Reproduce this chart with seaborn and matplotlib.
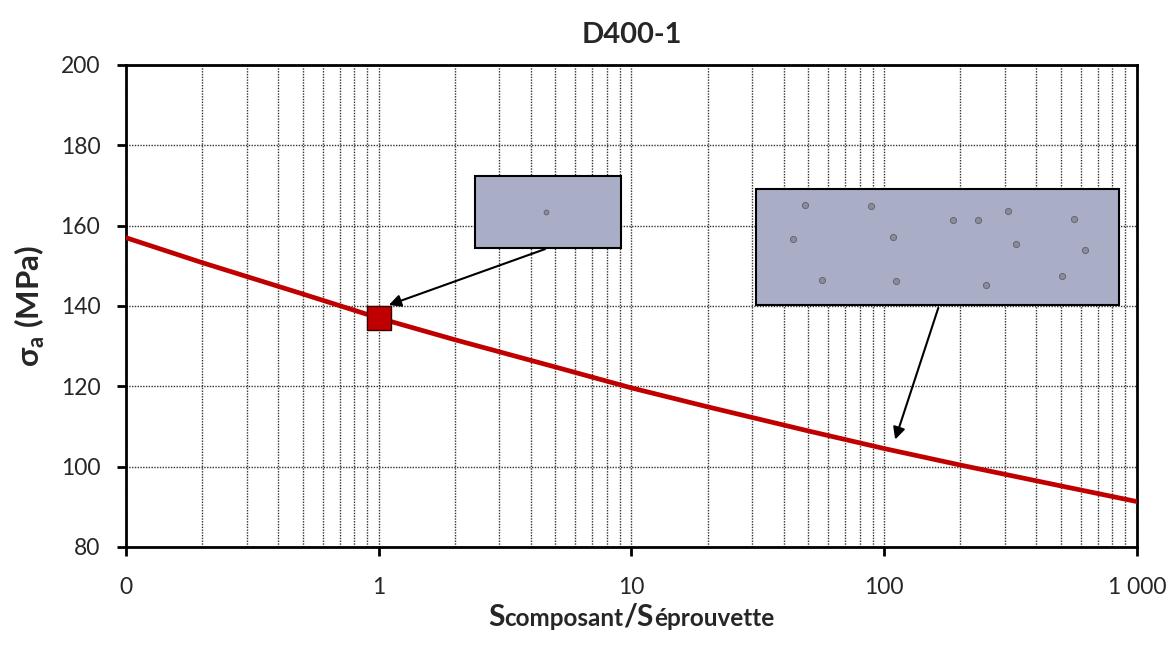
import matplotlib
matplotlib.use("Agg")
import matplotlib.pyplot as plt
from matplotlib.patches import Rectangle
import seaborn as sns
import pandas as pd

# curve
ratio = [0.1, 0.2, 0.5, 1, 2, 5, 10, 20, 50, 100, 200, 500, 1000]
sigma = [157.0, 150.8, 143.0, 137.0, 131.6, 124.8, 119.6, 114.9, 108.9, 104.5, 100.4, 95.2, 91.3]

# single test point
pt_x = [1]
pt_y = [137]

# pores drawn in the boxes
small_px = [4.57]
small_py = [163.4]
big_px = [48.7, 88.9, 43.7, 108.6, 187.5, 235, 309, 332, 564, 623, 56.9, 111.5, 253, 505]
big_py = [165.1, 164.9, 156.7, 157.2, 161.4, 161.4, 163.6, 155.4, 161.7, 153.9, 146.5, 146.2, 145.2, 147.5]

xticks = [0.1, 1, 10, 100, 1000]
xtick_labels = ["0", "1", "10", "100", "1 000"]
yticks = [80, 100, 120, 140, 160, 180, 200]

sns.set_style("white")
plt.rcParams['font.family'] = ['Lato', 'DejaVu Sans']
plt.rcParams['mathtext.fontset'] = 'custom'
plt.rcParams['mathtext.rm'] = 'Lato'
plt.rcParams['mathtext.bf'] = 'Lato:bold'

fig = plt.figure(figsize=(11.73, 6.48), dpi=100)
ax = fig.add_axes([0.1074, 0.1559, 0.8619, 0.7438])

df = pd.DataFrame({"ratio": ratio, "sigma": sigma})
sns.lineplot(data=df, x="ratio", y="sigma", ax=ax, color="#C00000", linewidth=3.4, zorder=3)
ax.set_xscale("log")
ax.set_xlim(0.1, 1000)
ax.set_ylim(80, 200)

ax.set_xticks(xticks)
ax.set_xticklabels(xtick_labels)
ax.set_yticks(yticks)
ax.tick_params(axis="both", which="major", direction="out", length=6.5, width=2,
               labelsize=16.5, color="black", bottom=True, left=True)
ax.tick_params(axis="y", pad=12)
ax.tick_params(axis="x", pad=15)
ax.tick_params(axis="x", which="minor", length=0)
ax.grid(True, which="major", axis="both", color="#333333", linestyle=(0, (1, 1)), linewidth=1.0)
ax.grid(True, which="minor", axis="x", color="#333333", linestyle=(0, (1, 1)), linewidth=1.0)
for s in ax.spines.values():
    s.set_visible(True)
    s.set_color("black")
    s.set_linewidth(2)

# boxes with pores
ax.add_patch(Rectangle((2.40, 154.4), 9.13 - 2.40, 172.4 - 154.4, facecolor="#A9ADC6",
                       edgecolor="black", linewidth=1.5, zorder=4))
ax.add_patch(Rectangle((31.2, 140.2), 849 - 31.2, 169.1 - 140.2, facecolor="#A9ADC6",
                       edgecolor="black", linewidth=1.5, zorder=4))
ax.scatter(small_px, small_py, s=12, color="#8A8C98", edgecolor="#5E6070", linewidth=0.6, zorder=5)
ax.scatter(big_px, big_py, s=20, color="#8A8C98", edgecolor="#5E6070", linewidth=0.6, zorder=5)

# arrows
ax.annotate("", xy=(1.07, 140.0), xytext=(4.66, 154.4),
            arrowprops=dict(arrowstyle="-|>", color="black", lw=1.5, mutation_scale=18), zorder=6)
ax.annotate("", xy=(109.6, 106.1), xytext=(165, 140.2),
            arrowprops=dict(arrowstyle="-|>", color="black", lw=1.5, mutation_scale=18), zorder=6)

sns.scatterplot(x=pt_x, y=pt_y, ax=ax, marker="s", s=300, color="#C00000",
                edgecolor="#3a0000", linewidth=1.0, zorder=7)

ax.set_title("D400-1", fontsize=21, fontweight="bold", pad=16)
ax.set_xlabel("")
ax.set_ylabel(r"$\mathbf{\sigma}_{\mathbf{a}}$ (MPa)", fontsize=22.5, fontweight="bold", labelpad=10)

# x label: big S, smaller words on the same baseline
pieces = [("S", 21.5), ("composant", 17.5), ("/S", 21.5), ("éprouvette", 17.5)]
renderer = fig.canvas.get_renderer()
texts = [fig.text(0, 0.034, s, fontsize=fs, fontweight="bold", va="baseline") for s, fs in pieces]
widths = [t.get_window_extent(renderer).width for t in texts]
x = 631 - sum(widths) / 2
for t, w in zip(texts, widths):
    t.set_x(x / fig.bbox.width)
    x += w

fig.savefig("out.png", dpi=100)
